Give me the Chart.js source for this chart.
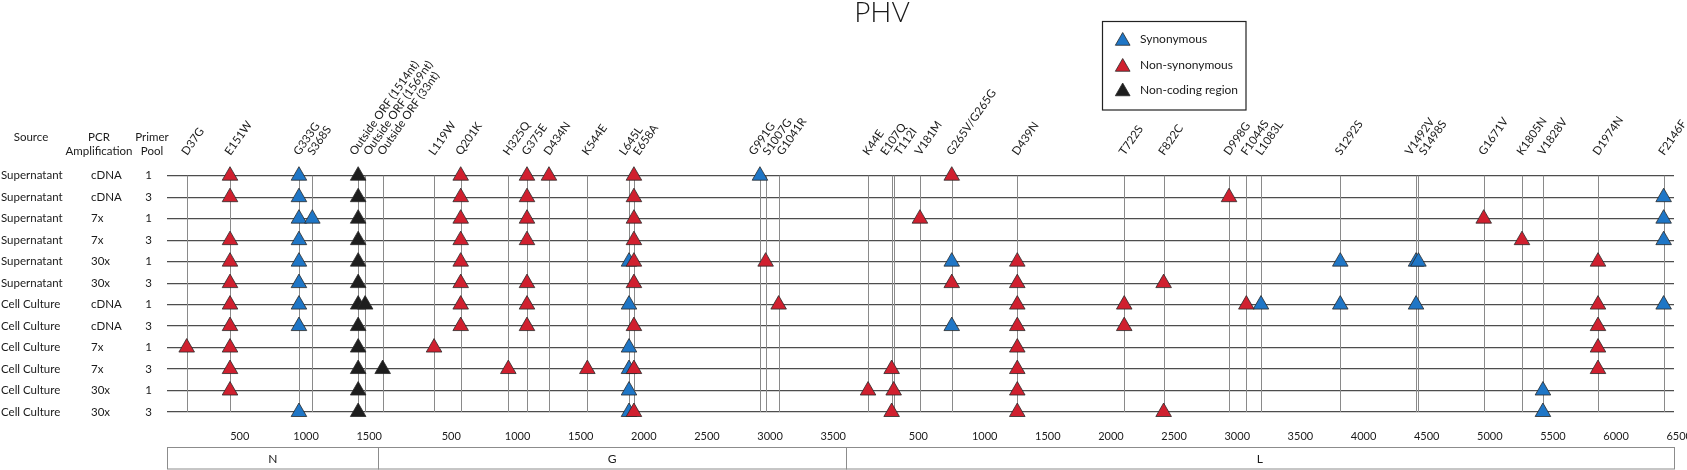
<!DOCTYPE html>
<html>
<head>
<meta charset="utf-8">
<title>PHV</title>
<script src="https://cdn.jsdelivr.net/npm/chart.js@4.4.1/dist/chart.umd.min.js"></script>
<style>
  html, body { margin: 0; padding: 0; background: #fff; }
  #wrap { width: 1687px; height: 470px; }
</style>
</head>
<body>
<div id="wrap"><canvas id="phvChart"></canvas></div>
<script>
// genome segments, lengths in nt
const segNames = ['N', 'G', 'L'];
const segLengths = [1675, 3700, 6560];
const segTicks = [
  [500, 1000, 1500],
  [500, 1000, 1500, 2000, 2500, 3000, 3500],
  [500, 1000, 1500, 2000, 2500, 3000, 3500, 4000, 4500, 5000, 5500, 6000, 6500]
];

// samples (one row each)
const sources = ['Supernatant', 'Supernatant', 'Supernatant', 'Supernatant', 'Supernatant', 'Supernatant',
  'Cell Culture', 'Cell Culture', 'Cell Culture', 'Cell Culture', 'Cell Culture', 'Cell Culture'];
const amplifications = ['cDNA', 'cDNA', '7x', '7x', '30x', '30x', 'cDNA', 'cDNA', '7x', '7x', '30x', '30x'];
const primerPools = ['1', '3', '1', '3', '1', '3', '1', '3', '1', '3', '1', '3'];
const headers = [['Source'], ['PCR', 'Amplification'], ['Primer', 'Pool']];

// mutation sites: name, segment, position inside the segment (nt)
const mutLabels = ['D37G', 'E151W', 'G333G', 'S368S', 'Outside ORF (1514nt)', 'Outside ORF (1569nt)',
  'Outside ORF (33nt)', 'L119W', 'Q201K', 'H325Q', 'G375E', 'D434N', 'K544E', 'L645L', 'E658A', 'G991G', 'S1007G', 'G1041R',
  'K44E', 'E107Q', 'T112I', 'V181M', 'G265V/G265G', 'D439N', 'T722S', 'F822C', 'D998G', 'F1044S', 'L1083L',
  'S1292S', 'V1492V', 'S1498S', 'G1671V', 'K1805N', 'V1828V', 'D1974N', 'F2146F'];
const mutSegments = ['N', 'N', 'N', 'N', 'N', 'N',
  'G', 'G', 'G', 'G', 'G', 'G', 'G', 'G', 'G', 'G', 'G', 'G',
  'L', 'L', 'L', 'L', 'L', 'L', 'L', 'L', 'L', 'L', 'L', 'L', 'L', 'L', 'L', 'L', 'L', 'L', 'L'];
const mutPositions = [156, 499, 1045, 1151, 1514, 1569,
  33, 440, 651, 1028, 1176, 1350, 1654, 1984, 2023, 3021, 3066, 3169,
  177, 364, 380, 588, 840, 1359, 2206, 2518, 3036, 3173, 3289, 3917, 4517, 4536, 5053, 5356, 5522, 5958, 6478];

// observed mutations per type: [row, mutation]
const typeNames = ['Synonymous', 'Non-synonymous', 'Non-coding region'];
const typeColors = ['#1f76c6', '#d0202f', '#1e1e1e'];
const synonymousHits = [
  [0, 'G333G'], [0, 'G991G'],
  [1, 'G333G'], [1, 'F2146F'],
  [2, 'G333G'], [2, 'S368S'], [2, 'F2146F'],
  [3, 'G333G'], [3, 'F2146F'],
  [4, 'G333G'], [4, 'L645L'], [4, 'G265V/G265G'], [4, 'S1292S'], [4, 'V1492V'], [4, 'S1498S'],
  [5, 'G333G'],
  [6, 'G333G'], [6, 'L645L'], [6, 'L1083L'], [6, 'S1292S'], [6, 'V1492V'], [6, 'F2146F'],
  [7, 'G333G'], [7, 'G265V/G265G'],
  [8, 'L645L'],
  [9, 'L645L'],
  [10, 'L645L'], [10, 'V1828V'],
  [11, 'G333G'], [11, 'L645L'], [11, 'V1828V']
];
const nonSynonymousHits = [
  [0, 'E151W'], [0, 'Q201K'], [0, 'G375E'], [0, 'D434N'], [0, 'E658A'], [0, 'G265V/G265G'],
  [1, 'E151W'], [1, 'Q201K'], [1, 'G375E'], [1, 'E658A'], [1, 'D998G'],
  [2, 'Q201K'], [2, 'G375E'], [2, 'E658A'], [2, 'V181M'], [2, 'G1671V'],
  [3, 'E151W'], [3, 'Q201K'], [3, 'G375E'], [3, 'E658A'], [3, 'K1805N'],
  [4, 'E151W'], [4, 'Q201K'], [4, 'E658A'], [4, 'S1007G'], [4, 'D439N'], [4, 'D1974N'],
  [5, 'E151W'], [5, 'Q201K'], [5, 'G375E'], [5, 'E658A'], [5, 'G265V/G265G'], [5, 'D439N'], [5, 'F822C'],
  [6, 'E151W'], [6, 'Q201K'], [6, 'G375E'], [6, 'G1041R'], [6, 'D439N'], [6, 'T722S'], [6, 'F1044S'], [6, 'D1974N'],
  [7, 'E151W'], [7, 'Q201K'], [7, 'G375E'], [7, 'E658A'], [7, 'D439N'], [7, 'T722S'], [7, 'D1974N'],
  [8, 'D37G'], [8, 'E151W'], [8, 'L119W'], [8, 'D439N'], [8, 'D1974N'],
  [9, 'E151W'], [9, 'H325Q'], [9, 'K544E'], [9, 'E658A'], [9, 'E107Q'], [9, 'D439N'], [9, 'D1974N'],
  [10, 'E151W'], [10, 'K44E'], [10, 'T112I'], [10, 'D439N'],
  [11, 'E658A'], [11, 'E107Q'], [11, 'D439N'], [11, 'F822C']
];
const nonCodingHits = [
  [0, 'Outside ORF (1514nt)'], [1, 'Outside ORF (1514nt)'], [2, 'Outside ORF (1514nt)'], [3, 'Outside ORF (1514nt)'],
  [4, 'Outside ORF (1514nt)'], [5, 'Outside ORF (1514nt)'], [6, 'Outside ORF (1514nt)'], [6, 'Outside ORF (1569nt)'],
  [7, 'Outside ORF (1514nt)'], [8, 'Outside ORF (1514nt)'], [9, 'Outside ORF (1514nt)'], [9, 'Outside ORF (33nt)'],
  [10, 'Outside ORF (1514nt)'], [11, 'Outside ORF (1514nt)']
];

const segOffsets = segLengths.map((_, i) => segLengths.slice(0, i).reduce((a, b) => a + b, 0));
const genomeLength = segLengths.reduce((a, b) => a + b, 0);
function globalPos(seg, nt) { return segOffsets[segNames.indexOf(seg)] + nt; }
function mutX(name) { const i = mutLabels.indexOf(name); return globalPos(mutSegments[i], mutPositions[i]); }

const tickValues = [], tickTexts = [];
segTicks.forEach((list, s) => list.forEach(t => { tickValues.push(segOffsets[s] + t); tickTexts.push(String(t)); }));

const FONT = 'Lato, "Open Sans", sans-serif';
const TEXT = '#1a1a1a';

// push crowded rotated labels apart, keeping each cluster centred on its lines
function spreadLabels(pixels, gap) {
  let groups = pixels.map(p => ({xs: [p], c: p}));
  let merged = true;
  while (merged) {
    merged = false;
    for (let i = 0; i < groups.length - 1; i++) {
      const a = groups[i], b = groups[i + 1];
      const aEnd = a.c + (a.xs.length - 1) * gap / 2;
      const bStart = b.c - (b.xs.length - 1) * gap / 2;
      if (bStart - aEnd < gap) {
        const all = a.xs.concat(b.xs);
        groups.splice(i, 2, {xs: all, c: all.reduce((s, v) => s + v, 0) / all.length});
        merged = true;
        break;
      }
    }
  }
  const out = [];
  groups.forEach(g => g.xs.forEach((_, k) => out.push(g.c + (k - (g.xs.length - 1) / 2) * gap)));
  return out;
}

const decor = {
  id: 'phvDecor',
  afterLayout(chart) {
    // title sits a bit right of the canvas centre
    const t = chart.titleBlock;
    if (t) t.left = 2 * 882 - t.right;
  },
  beforeDatasetsDraw(chart) {
    const {ctx} = chart;
    const xs = chart.scales.x, ys = chart.scales.y;
    const top = ys.getPixelForValue(0), bottom = ys.getPixelForValue(sources.length - 1);
    ctx.save();
    ctx.strokeStyle = '#8a8a8a';
    ctx.lineWidth = 1;
    mutLabels.forEach(m => {
      const px = Math.round(xs.getPixelForValue(mutX(m))) + 0.5;
      ctx.beginPath(); ctx.moveTo(px, top); ctx.lineTo(px, bottom); ctx.stroke();
    });
    ctx.restore();
  },
  afterDraw(chart) {
    const {ctx} = chart;
    const xs = chart.scales.x;
    ctx.save();
    ctx.fillStyle = TEXT;

    // rotated mutation names
    ctx.font = '11.5px ' + FONT;
    ctx.textAlign = 'left';
    ctx.textBaseline = 'alphabetic';
    const order = mutLabels.map((m, i) => i).sort((a, b) => mutX(mutLabels[a]) - mutX(mutLabels[b]));
    const anchors = spreadLabels(order.map(i => xs.getPixelForValue(mutX(mutLabels[i]))), 14);
    order.forEach((i, k) => {
      ctx.save();
      ctx.translate(anchors[k] + 0.5, 156);
      ctx.rotate(-55 * Math.PI / 180);
      ctx.fillText(mutLabels[i], 0, 0);
      ctx.restore();
    });

    // column headers
    ctx.textAlign = 'center';
    ctx.textBaseline = 'middle';
    const hx = [31, 99, 152];
    headers.forEach((lines, i) => lines.forEach((l, j) => ctx.fillText(l, hx[i], 137 + j * 14.5)));

    // segment boxes
    const boxTop = 447, boxBottom = 468.5;
    ctx.strokeStyle = '#8c8c8c';
    ctx.lineWidth = 1;
    ctx.font = '12px ' + FONT;
    segNames.forEach((s, i) => {
      const x0 = xs.getPixelForValue(segOffsets[i]);
      const x1 = xs.getPixelForValue(segOffsets[i] + segLengths[i]);
      ctx.strokeRect(Math.round(x0) + 0.5, boxTop + 0.5, Math.round(x1) - Math.round(x0), boxBottom - boxTop);
      ctx.fillText(s, (x0 + x1) / 2, (boxTop + boxBottom) / 2 + 1);
    });

    // legend
    const lx = 1102.5, ly = 21.5, lw = 143.5, lh = 88.5;
    ctx.strokeStyle = '#222';
    ctx.lineWidth = 1.2;
    ctx.strokeRect(lx, ly, lw, lh);
    const itemY = [39.5, 65.5, 90];
    ctx.textAlign = 'left';
    ctx.font = '12px ' + FONT;
    chart.data.datasets.forEach((ds, i) => {
      ctx.fillStyle = ds.backgroundColor;
      ctx.strokeStyle = ds.borderColor;
      ctx.lineWidth = 0.8;
      Chart.helpers.drawPoint(ctx, {pointStyle: 'triangle', radius: 8.5, rotation: 0, borderWidth: 0.8}, 1122.7, itemY[i] + 1.5);
      ctx.fillStyle = TEXT;
      ctx.fillText(ds.label, 1140, itemY[i]);
    });
    ctx.restore();
  }
};

function toPoints(hits) {
  return hits.map(([row, m]) => ({x: mutX(m), y: row}));
}

const rowAxis = (labels, weight, width, align, pad, grid) => ({
  type: 'category',
  position: 'left',
  labels: labels,
  offset: false,
  weight: weight,
  grid: grid ? {display: true, drawTicks: false, color: '#4d4d4d', lineWidth: 1.2} : {display: false, drawTicks: false},
  border: {display: false},
  ticks: {crossAlign: align, padding: pad, autoSkip: false, color: TEXT, font: {family: FONT, size: 11.5}},
  afterFit: s => { s.width = width; }
});

new Chart(document.getElementById('phvChart'), {
  type: 'scatter',
  data: {
    datasets: [
      {label: typeNames[0], data: toPoints(synonymousHits), backgroundColor: typeColors[0], order: 2},
      {label: typeNames[1], data: toPoints(nonSynonymousHits), backgroundColor: typeColors[1], order: 1},
      {label: typeNames[2], data: toPoints(nonCodingHits), backgroundColor: typeColors[2], order: 3}
    ].map(ds => Object.assign(ds, {
      pointStyle: 'triangle', pointRadius: 9, pointHoverRadius: 9,
      borderColor: '#2a2a2a', borderWidth: 0.8, clip: false
    }))
  },
  options: {
    responsive: true,
    maintainAspectRatio: false,
    animation: false,
    layout: {padding: {left: 1, right: 13, top: 0, bottom: 0}},
    plugins: {
      legend: {display: false},
      tooltip: {enabled: false},
      title: {
        display: true, text: 'PHV', color: TEXT,
        font: {family: FONT, size: 28, weight: '300', lineHeight: 1},
        padding: {top: -1, bottom: 148.7}
      }
    },
    scales: {
      x: {
        type: 'linear', min: 0, max: genomeLength,
        grid: {display: false, drawTicks: false},
        border: {display: false},
        afterBuildTicks: s => { s.ticks = tickValues.map(v => ({value: v})); },
        ticks: {
          align: 'start', padding: 18, autoSkip: false, maxRotation: 0, color: TEXT,
          font: {family: FONT, size: 11},
          callback: (v, i) => tickTexts[i]
        },
        afterFit: s => { s.height = 58; s.paddingLeft = 0; s.paddingRight = 0; }
      },
      y: {type: 'linear', min: 0, max: sources.length - 1, reverse: true, display: false},
      ySource: rowAxis(sources, 3, 90, 'far', 0, false),
      yPcr: rowAxis(amplifications, 2, 44, 'far', 0, false),
      yPool: rowAxis(primerPools, 1, 32, 'center', 15, true)
    }
  },
  plugins: [decor]
});
</script>
</body>
</html>
